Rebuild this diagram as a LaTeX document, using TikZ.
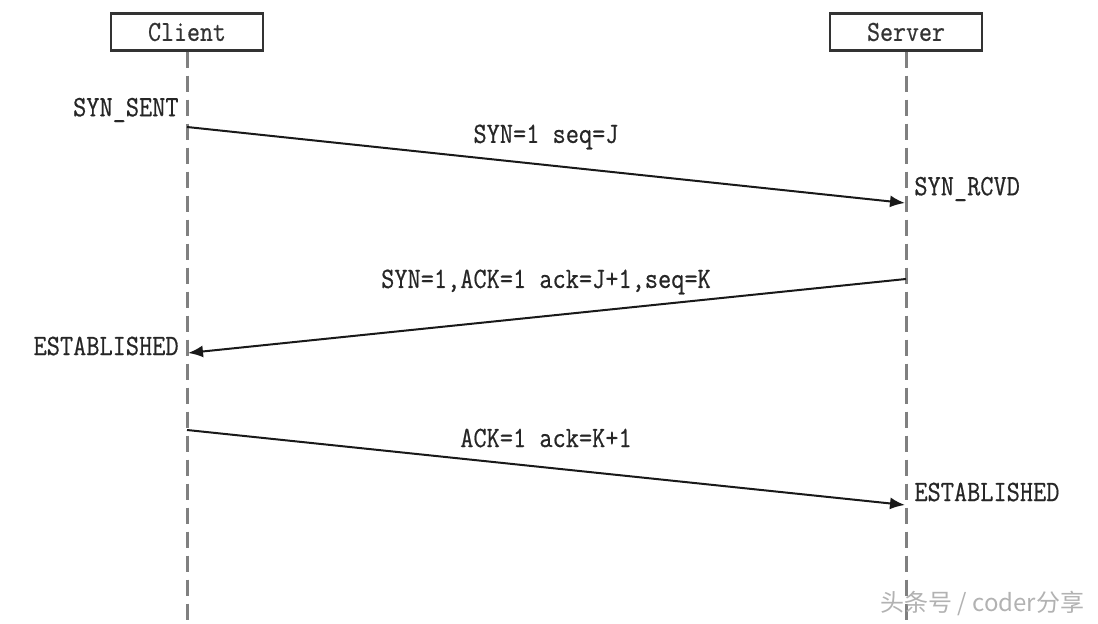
\documentclass[tikz,border=0pt]{standalone}
\usepackage{fontspec}
\usepackage{graphicx}
\usetikzlibrary{arrows.meta}
\newfontfamily\seqfont[FakeBold=0.6]{Latin Modern Mono}
\newfontfamily\cjkfont{Noto Sans CJK SC}
\newcommand{\tallt}[1]{\scalebox{1}[1.15]{#1}}
\begin{document}
\begin{tikzpicture}[x=0.5pt,y=-0.5pt,
  actor/.style={draw=black!80,line width=1.1pt,minimum width=76pt,minimum height=18.5pt,inner sep=0pt,font=\seqfont\fontsize{12.6}{14}\selectfont,text=black!80},
  lifeline/.style={draw=black!50,line width=1.5pt,dash pattern=on 8pt off 4pt},
  msg/.style={draw=black!90,line width=1pt,-{Latex[length=7.5pt,width=6pt]}},
  lbl/.style={font=\seqfont\fontsize{12.8}{15}\selectfont,text=black!85,inner sep=0pt},
  statel/.style={lbl,anchor=east},
  stater/.style={lbl,anchor=west}]
\useasboundingbox (0,0) rectangle (1098,624);
\fill[white] (0,0) rectangle (1098,624);
% actors
\node[actor] (client) at (187,32) {\tallt{Client}};
\node[actor] (server) at (906,32) {\tallt{Server}};
\coordinate (cend) at (187,624);
\coordinate (send) at (906,624);
\draw[lifeline] (client.south) -- (cend);
\draw[lifeline] (server.south) -- (send);
% points on lifelines
\coordinate (c1) at (187,127);
\coordinate (s1) at (905,203);
\coordinate (s2) at (906,279);
\coordinate (c2) at (188,353);
\coordinate (c3) at (187,430);
\coordinate (s3) at (905,505);
% messages
\draw[msg] (c1) -- (s1);
\draw[msg] (s2) -- (c2);
\draw[msg] (c3) -- (s3);
% labels
\node[lbl] (m1) at (546,137) {\tallt{SYN=1 seq=J}};
\node[lbl] (m2) at (546,282) {\tallt{SYN=1,ACK=1 ack=J+1,seq=K}};
\node[lbl] (m3) at (546,438) {\tallt{ACK=1 ack=K+1}};
% states
\node[statel] (st1) at (179,110) {\tallt{SYN\_SENT}};
\node[stater] (st2) at (914,189) {\tallt{SYN\_RCVD}};
\node[statel] (st3) at (179,346) {\tallt{ESTABLISHED}};
\node[stater] (st4) at (914,492) {\tallt{ESTABLISHED}};
% watermark
\node[font=\cjkfont\fontsize{12}{14}\selectfont,text=black!30,inner sep=0pt,anchor=west] (wm) at (880,603) {头条号 / coder分享};
\end{tikzpicture}
\end{document}
